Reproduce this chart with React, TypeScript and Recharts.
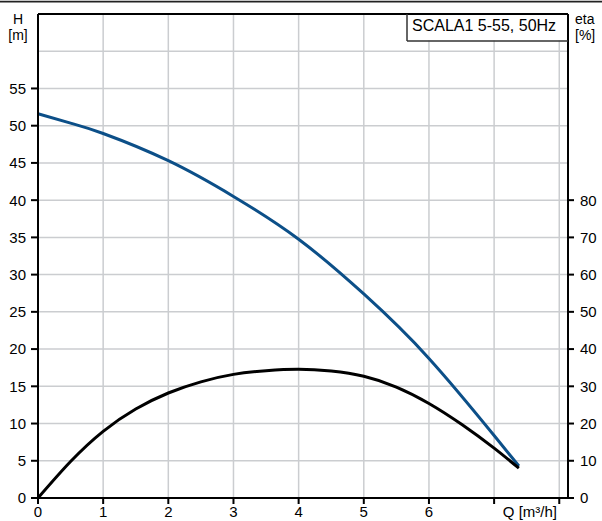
import React from "react";
import { ComposedChart, Line, XAxis, YAxis, CartesianGrid, ReferenceLine } from "recharts";

const Q = [0, 0.5, 1, 1.5, 2, 2.5, 3, 3.5, 4, 4.5, 5, 5.5, 6, 6.5, 7, 7.38];
const H = [51.6, 50.35, 48.95, null, 45.3, null, 40.5, null, 34.75, null, 27.4, null, 18.75, null, 8.4, 4.3];
const ETA = [0, 9.8, 17.9, 23.9, 28.2, 31.2, 33.2, 34.2, 34.6, 34.1, 32.7, 29.8, 25.4, 19.8, 13.4, 8.0];

const X_TICKS = [0, 1, 2, 3, 4, 5, 6, 7, 8];
const X_LABELS = ["0", "1", "2", "3", "4", "5", "6", "Q [m³/h]", ""];
const H_TICKS = [0, 5, 10, 15, 20, 25, 30, 35, 40, 45, 50, 55, 60, 65];
const H_LABEL_MAX = 55;
const ETA_TICKS = [0, 10, 20, 30, 40, 50, 60, 70, 80];
const TITLE = "SCALA1 5-55, 50Hz";

const data = Q.map((q, i) => ({ q, h: H[i], eta: ETA[i] }));

const FONT = "Arial, 'Liberation Sans', sans-serif";

const XTick = (props: any) => {
  const { x, y, index } = props;
  const label = X_LABELS[index] ?? "";
  const isQ = label.startsWith("Q");
  return (
    <g>
      <line x1={x} x2={x} y1={y} y2={y + 6} stroke="#000" strokeWidth={2} />
      {label !== "" && (
        <text
          x={isQ ? 557 : x}
          y={y + 19}
          textAnchor={isQ ? "end" : "middle"}
          fontSize={15}
          fontFamily={FONT}
          fill="#000"
        >
          {label}
        </text>
      )}
    </g>
  );
};

const HTick = (props: any) => {
  const { x, y, payload } = props;
  if (payload.value > H_LABEL_MAX) return <g />;
  return (
    <g>
      <line x1={x - 7} x2={x} y1={y} y2={y} stroke="#000" strokeWidth={2} />
      <text x={x - 12} y={y + 5.4} textAnchor="end" fontSize={15} fontFamily={FONT} fill="#000">
        {payload.value}
      </text>
    </g>
  );
};

const EtaTick = (props: any) => {
  const { x, y, payload } = props;
  return (
    <g>
      <line x1={x} x2={x + 6} y1={y} y2={y} stroke="#000" strokeWidth={2} />
      <text x={x + 12} y={y + 5.4} textAnchor="start" fontSize={15} fontFamily={FONT} fill="#000">
        {payload.value}
      </text>
    </g>
  );
};

export default function App() {
  return (
    <div style={{ position: "absolute", left: 0, top: 0, width: 602, height: 521, background: "#fff" }}>
      <ComposedChart
        width={602}
        height={521}
        data={data}
        margin={{ top: 14, right: 0, bottom: 0, left: 0 }}
      >
        <CartesianGrid yAxisId="h" xAxisId="q" stroke="#cbcdd0" strokeWidth={1.5} />
        <XAxis
          xAxisId="q"
          dataKey="q"
          type="number"
          domain={[0, 8.134]}
          ticks={X_TICKS}
          interval={0}
          height={23}
          tickSize={0}
          tickMargin={0}
          tickLine={false}
          axisLine={{ stroke: "#000", strokeWidth: 2 }}
          tick={<XTick />}
        />
        <YAxis
          yAxisId="h"
          orientation="left"
          type="number"
          domain={[0, 65]}
          ticks={H_TICKS}
          interval={0}
          width={38}
          tickSize={0}
          tickMargin={0}
          tickLine={false}
          axisLine={{ stroke: "#000", strokeWidth: 2 }}
          tick={<HTick />}
        />
        <YAxis
          yAxisId="eta"
          orientation="right"
          type="number"
          domain={[0, 130]}
          ticks={ETA_TICKS}
          interval={0}
          width={34}
          tickSize={0}
          tickMargin={0}
          tickLine={false}
          axisLine={{ stroke: "#000", strokeWidth: 2 }}
          tick={<EtaTick />}
        />
        <ReferenceLine xAxisId="q" yAxisId="h" y={65} stroke="#000" strokeWidth={2} />
        <Line
          xAxisId="q"
          yAxisId="h"
          dataKey="h"
          type="natural"
          connectNulls
          stroke="#0c4f88"
          strokeWidth={3}
          dot={false}
          activeDot={false}
          isAnimationActive={false}
        />
        <Line
          xAxisId="q"
          yAxisId="eta"
          dataKey="eta"
          type="natural"
          stroke="#000"
          strokeWidth={3}
          dot={false}
          activeDot={false}
          isAnimationActive={false}
        />
      </ComposedChart>
      <svg
        width={602}
        height={521}
        style={{ position: "absolute", left: 0, top: 0, pointerEvents: "none" }}
      >
        <line x1={0} x2={602} y1={1.6} y2={1.6} stroke="#222" strokeWidth={1.6} />
        <text x={18} y={24} textAnchor="middle" fontSize={14} fontFamily={FONT} fill="#000">H</text>
        <text x={18} y={40} textAnchor="middle" fontSize={14} fontFamily={FONT} fill="#000">[m]</text>
        <text x={575} y={24} textAnchor="start" fontSize={14} fontFamily={FONT} fill="#000">eta</text>
        <text x={575} y={40} textAnchor="start" fontSize={14} fontFamily={FONT} fill="#000">[%]</text>
        <rect x={407.5} y={15} width={159.5} height={25.5} fill="#fff" />
        <line x1={407} x2={407} y1={14} y2={41} stroke="#333" strokeWidth={1.5} />
        <line x1={407} x2={568} y1={41} y2={41} stroke="#333" strokeWidth={1.5} />
        <text x={412} y={31} fontSize={16} fontFamily={FONT} fill="#000">{TITLE}</text>
      </svg>
    </div>
  );
}
